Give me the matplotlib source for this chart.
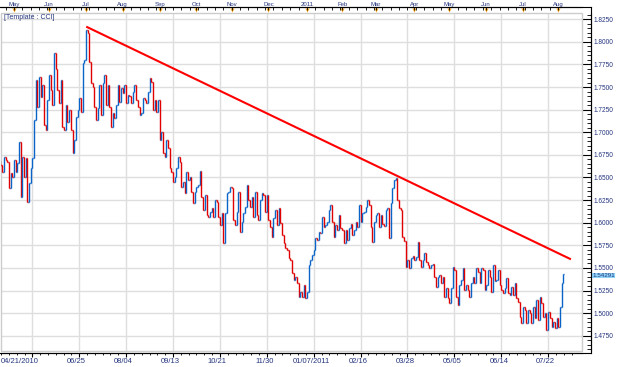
import numpy as np
import pandas as pd
import matplotlib
matplotlib.use('Agg')
import matplotlib.pyplot as plt
from matplotlib.collections import LineCollection
from matplotlib.patches import Rectangle
from matplotlib.lines import Line2D
from matplotlib.ticker import MultipleLocator, FixedLocator, FormatStrFormatter

# daily closes, 04/21/2010 -> early Aug 2011
first_open = 1.668
closes = [
    1.664, 1.656, 1.673, 1.669, 1.667, 1.638, 1.655, 1.650, 1.669, 1.656,
    1.666, 1.689, 1.628, 1.673, 1.650, 1.672, 1.623, 1.644, 1.660, 1.672,
    1.714, 1.758,
    1.728, 1.761, 1.739, 1.752, 1.708, 1.703, 1.736, 1.763, 1.747, 1.730,
    1.788, 1.770, 1.747, 1.732, 1.758, 1.706, 1.703, 1.730, 1.711, 1.725,
    1.703, 1.677, 1.691, 1.717, 1.725, 1.738, 1.722, 1.777, 1.780, 1.813,
    1.810, 1.778, 1.755, 1.750, 1.728, 1.714, 1.727, 1.752,
    1.719, 1.755, 1.763, 1.730, 1.752, 1.728, 1.706, 1.721, 1.716, 1.730,
    1.752, 1.733, 1.749, 1.743, 1.752, 1.732, 1.741, 1.740, 1.732, 1.745,
    1.752, 1.736, 1.728, 1.719, 1.721, 1.738, 1.736, 1.732, 1.745, 1.760,
    1.756, 1.725, 1.736, 1.722, 1.736, 1.692,
    1.700, 1.677, 1.673, 1.692, 1.683, 1.660, 1.656, 1.645, 1.650, 1.660,
    1.673, 1.667, 1.640, 1.645, 1.633, 1.656, 1.647, 1.650, 1.634, 1.622,
    1.634, 1.640, 1.642, 1.657, 1.628, 1.614, 1.631, 1.609, 1.606, 1.612,
    1.616, 1.606, 1.625, 1.623, 1.606, 1.597, 1.611, 1.577, 1.611, 1.633,
    1.634, 1.640, 1.638, 1.603, 1.597, 1.612, 1.634, 1.590, 1.601, 1.611,
    1.617, 1.642, 1.625, 1.617, 1.628, 1.606, 1.634, 1.609, 1.603, 1.625,
    1.633, 1.631, 1.612, 1.631, 1.603, 1.595, 1.584, 1.605, 1.614, 1.597,
    1.616,
    1.600, 1.586, 1.577, 1.572, 1.570, 1.561, 1.559, 1.544, 1.537, 1.540,
    1.533, 1.518, 1.523, 1.518, 1.531, 1.517, 1.523, 1.553, 1.559, 1.564,
    1.570, 1.583, 1.581, 1.590, 1.589, 1.606, 1.595, 1.597, 1.601, 1.614,
    1.620, 1.601, 1.584, 1.597, 1.592, 1.609, 1.594, 1.592, 1.577, 1.592,
    1.581, 1.594, 1.598, 1.586, 1.592, 1.601, 1.595, 1.620, 1.601, 1.611,
    1.612, 1.617, 1.625, 1.620, 1.595, 1.579, 1.601, 1.609, 1.611, 1.595,
    1.609, 1.598, 1.596, 1.614, 1.616, 1.583, 1.622, 1.638, 1.647,
    1.649, 1.625, 1.616, 1.614, 1.584, 1.580, 1.551, 1.559, 1.550, 1.561,
    1.563, 1.559, 1.562, 1.579, 1.559, 1.551,
    1.559, 1.566, 1.557, 1.553, 1.550, 1.553, 1.554, 1.540, 1.529, 1.540,
    1.542, 1.533, 1.540, 1.518, 1.528, 1.517, 1.511, 1.528, 1.551, 1.548,
    1.518, 1.509, 1.531, 1.537, 1.550, 1.526, 1.531, 1.526, 1.518, 1.533,
    1.540, 1.533, 1.550, 1.545, 1.533, 1.550, 1.548, 1.526, 1.531, 1.548,
    1.540, 1.523, 1.553, 1.535, 1.537, 1.548, 1.531, 1.526, 1.522, 1.528,
    1.539, 1.522, 1.520, 1.529, 1.520, 1.533, 1.517, 1.512, 1.496, 1.489,
    1.507, 1.503, 1.489, 1.503, 1.500, 1.489, 1.507, 1.495, 1.515, 1.492,
    1.518, 1.511, 1.496, 1.500, 1.481, 1.501, 1.495, 1.485, 1.490, 1.484,
    1.495, 1.485, 1.507, 1.533, 1.5429,
]
last_label = '1.54291'

# trend line drawn on the chart (bar index, price)
trend_x = [51.2, 340.6]
trend_y = [1.8168, 1.5595]

month_labels = ['May', 'Jun', 'Jul', 'Aug', 'Sep', 'Oct', 'Nov', 'Dec',
                '2011', 'Feb', 'Mar', 'Apr', 'May', 'Jun', 'Jul', 'Aug']
date_labels = ['04/21/2010', '06/25', '08/04', '09/13', '10/21', '11/30',
               '01/07/2011', '02/16', '03/28', '05/05', '06/14', '07/22']

plt.rcParams['font.family'] = ['Liberation Sans', 'DejaVu Sans']
navy = '#24347e'
blue = '#0a64c8'
red = '#e00000'
W, H = 625, 367

n = len(closes)
opens = [first_open] + closes[:-1]
dates = pd.bdate_range('2010-04-21', periods=n)
month_idx = [i for i in range(1, n) if dates[i].month != dates[i - 1].month]
week_idx = [i for i in range(n) if dates[i].dayofweek == 0]

fig = plt.figure(figsize=(W / 100, H / 100), dpi=100)
ax = fig.add_axes([1 / W, 16 / H, 581 / W, 338 / H])
ax.set_xlim(0.3, 347.2)
ax.set_ylim(1.4581, 1.8319)

segs, cols = [], []
for i, (o, c) in enumerate(zip(opens, closes)):
    col = blue if c >= o else red
    segs.append([(i, min(o, c)), (i, max(o, c))])
    segs.append([(i - 0.5, o), (i, o)])
    segs.append([(i, c), (i + 0.5, c)])
    cols += [col] * 3
ax.add_collection(LineCollection(segs, colors=cols, linewidths=1.0, zorder=3))

ax.plot(trend_x, trend_y, color='#ff0000', lw=1.5, solid_capstyle='butt', zorder=4)

# y axis on the right
ax.yaxis.tick_right()
ax.yaxis.set_major_locator(MultipleLocator(0.025))
ax.yaxis.set_minor_locator(MultipleLocator(0.005))
ax.yaxis.set_major_formatter(FormatStrFormatter('%.4f'))
ax.tick_params(axis='y', which='major', direction='in', length=6.5, width=0.8,
               pad=2, labelsize=4.7, labelcolor=navy, color='black')
ax.tick_params(axis='y', which='minor', direction='in', length=2.8, width=0.6, color='black')

# bottom date axis
xt = [19 + 28 * k for k in range(len(date_labels))]
ax.set_xticks(xt)
ax.set_xticklabels([])
step = 28 / 6
ax.xaxis.set_minor_locator(FixedLocator([19 + step * k for k in range(-4, 70) if 0.3 < 19 + step * k < 347]))
ax.tick_params(axis='x', which='major', direction='out', length=3, width=0.8, color='black')
ax.tick_params(axis='x', which='minor', direction='out', length=1.7, width=0.6, color='black')
for k, (t, lab) in enumerate(zip(xt, date_labels)):
    if k == 0:
        ax.text(0.3, -7 / 338, lab, transform=ax.get_xaxis_transform(), ha='left', va='top',
                fontsize=5.5, color=navy)
    else:
        ax.text(t - 1.5, -7 / 338, lab, transform=ax.get_xaxis_transform(), ha='center', va='top',
                fontsize=5.5, color=navy)

ax.grid(which='major', color='#dedede', lw=1)
ax.set_axisbelow(True)
for s in ['left', 'top']:
    ax.spines[s].set_visible(False)
ax.spines['bottom'].set_position(('outward', 1.4))
ax.spines['right'].set_position(('outward', 6.5))
ax.spines['bottom'].set_linewidth(0.8)
ax.spines['right'].set_linewidth(0.8)
ax.add_patch(Rectangle((0, 0), 1, 1, transform=ax.transAxes, fill=False,
                       edgecolor='#cccccc', lw=1, clip_on=False, zorder=1))

# top month axis
axt = ax.twiny()
axt.set_xlim(ax.get_xlim())
for s in ['left', 'right', 'bottom']:
    axt.spines[s].set_visible(False)
axt.spines['top'].set_position(('outward', 4.3))
axt.spines['top'].set_linewidth(0.8)
axt.set_xticks(month_idx)
axt.set_xticklabels(month_labels)
axt.xaxis.set_minor_locator(FixedLocator(week_idx))
axt.tick_params(axis='x', which='major', direction='in', length=2.2, width=0.6,
                pad=0.2, labelsize=4.3, labelcolor=navy)
axt.tick_params(axis='x', which='minor', direction='in', length=2.2, width=0.6)
ax.scatter(month_idx, [1 + 3 / 338] * len(month_idx), marker='v', s=9, color='#f5a623',
           transform=ax.get_xaxis_transform(), clip_on=False, zorder=6, linewidths=0)

# frame lines joining the axes
for (x0, y0, x1, y1) in [(0, 7, 591, 7), (591, 7, 591, 352.7), (0, 352.7, 591, 352.7)]:
    fig.add_artist(Line2D([x0 / W, x1 / W], [1 - y0 / H, 1 - y1 / H], transform=fig.transFigure,
                          color='black', lw=0.8))

ax.text(3 / 581, 1 - 1 / 338, '[Template : CCI]', transform=ax.transAxes, ha='left', va='top',
        fontsize=5, color=navy)
ax.text(1 + 10 / 581, closes[-1] - 0.0015, last_label, transform=ax.get_yaxis_transform(), ha='left',
        va='center', fontsize=4.5, color=navy, clip_on=False,
        bbox=dict(boxstyle='square,pad=0.05', fc='#8dd3f7', ec='none'))

fig.savefig('out.png', dpi=100)
